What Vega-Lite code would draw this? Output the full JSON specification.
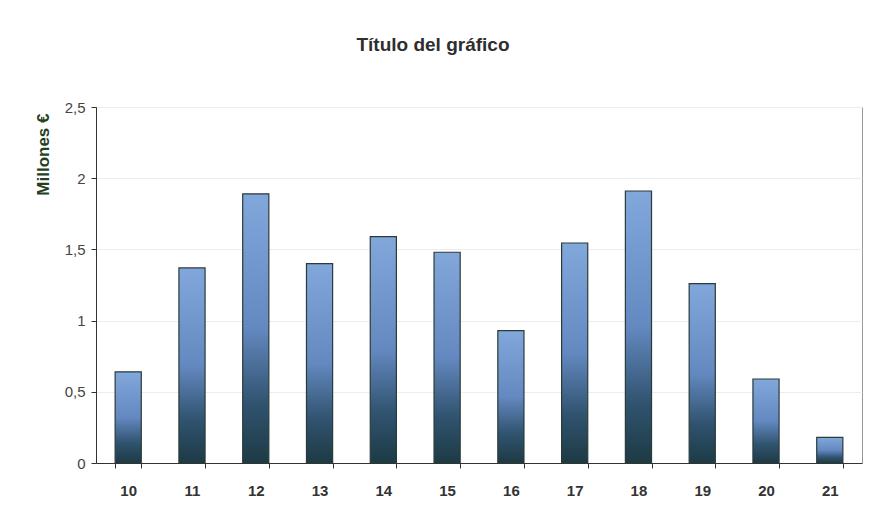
{
  "$schema": "https://vega.github.io/schema/vega-lite/v6.json",
  "width": 766,
  "height": 356,
  "autosize": {"type": "none"},
  "padding": {"left": 96, "top": 107, "right": 7, "bottom": 59},
  "background": "white",
  "title": {
    "text": "Título del gráfico",
    "font": "Liberation Sans",
    "fontSize": 19,
    "fontWeight": "bold",
    "color": "#2e2e2e",
    "anchor": "middle",
    "dx": -46,
    "offset": 45
  },
  "data": {
    "values": [
      {"mes": "10", "valor": 0.64},
      {"mes": "11", "valor": 1.37},
      {"mes": "12", "valor": 1.89},
      {"mes": "13", "valor": 1.40},
      {"mes": "14", "valor": 1.59},
      {"mes": "15", "valor": 1.48},
      {"mes": "16", "valor": 0.93},
      {"mes": "17", "valor": 1.545},
      {"mes": "18", "valor": 1.91},
      {"mes": "19", "valor": 1.26},
      {"mes": "20", "valor": 0.59},
      {"mes": "21", "valor": 0.18}
    ]
  },
  "mark": {
    "type": "bar",
    "stroke": "#2b3b3b",
    "strokeWidth": 1.2,
    "color": {
      "gradient": "linear",
      "x1": 0, "y1": 0, "x2": 0, "y2": 1,
      "stops": [
        {"offset": 0, "color": "#82a7db"},
        {"offset": 0.5, "color": "#6389c0"},
        {"offset": 0.78, "color": "#30536f"},
        {"offset": 1, "color": "#1d3a44"}
      ]
    }
  },
  "encoding": {
    "x": {
      "field": "mes",
      "type": "ordinal",
      "scale": {"paddingInner": 0.59, "paddingOuter": 0.3},
      "axis": {
        "title": null,
        "labelAngle": 0,
        "labelFont": "Liberation Sans",
        "labelFontSize": 15,
        "labelFontWeight": "bold",
        "labelColor": "#333333",
        "labelPadding": 15,
        "tickBand": "extent",
        "tickColor": "#333333",
        "tickSize": 5,
        "domainColor": "#333333"
      }
    },
    "y": {
      "field": "valor",
      "type": "quantitative",
      "scale": {"domain": [0, 2.5]},
      "axis": {
        "title": "Millones €",
        "titleFont": "Liberation Sans",
        "titleFontSize": 17,
        "titleFontWeight": "bold",
        "titleColor": "#24401f",
        "titleAnchor": "end",
        "titleY": 6,
        "titlePadding": 12,
        "values": [0, 0.5, 1, 1.5, 2, 2.5],
        "format": "~g",
        "labelExpr": "replace(datum.label, '.', ',')",
        "labelFont": "Liberation Sans",
        "labelFontSize": 15,
        "labelColor": "#444444",
        "labelPadding": 6,
        "tickColor": "#333333",
        "tickSize": 5,
        "domainColor": "#333333",
        "grid": true,
        "gridColor": "#ededed"
      }
    }
  },
  "config": {
    "view": {"stroke": "#999999", "strokeWidth": 1}
  }
}
